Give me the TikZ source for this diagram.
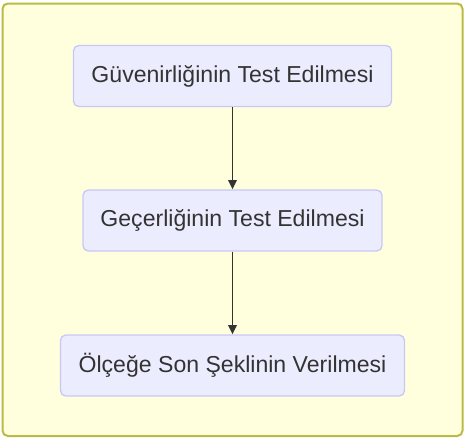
\documentclass[tikz,border=0pt]{standalone}
\usepackage{fontspec}
\setmainfont{Liberation Sans}
\usetikzlibrary{arrows.meta}
\definecolor{framefill}{HTML}{FFFFDE}
\definecolor{framedraw}{HTML}{BBBB44}
\definecolor{boxfill}{HTML}{ECECFF}
\definecolor{boxdraw}{HTML}{C8C8F8}
\definecolor{txt}{HTML}{333333}
\tikzset{
  stepbox/.style={draw=boxdraw, fill=boxfill, line width=1pt, rounded corners=4pt,
    text=txt, font=\fontsize{17.3}{20}\selectfont, inner sep=0pt, anchor=center},
  flow/.style={draw=txt, line width=1.4pt, -{Triangle[length=7pt,width=6.5pt]}}
}
\begin{document}
\begin{tikzpicture}[x=0.75pt,y=-0.75pt]
\useasboundingbox (0,0) rectangle (466,439);
\draw[fill=framefill, draw=framedraw, line width=1.5pt, rounded corners=4pt] (2.5,3.5) rectangle (462.5,436);
\node[stepbox, minimum width=318*0.75pt, minimum height=61*0.75pt] (n1) at (232.5,76) {Güvenirliğinin Test Edilmesi};
\node[stepbox, minimum width=299*0.75pt, minimum height=61*0.75pt] (n2) at (232.5,220.5) {Geçerliğinin Test Edilmesi};
\node[stepbox, minimum width=344*0.75pt, minimum height=61*0.75pt] (n3) at (232.5,365.5) {Ölçeğe Son Şeklinin Verilmesi};
\draw[flow] (n1) -- (n2);
\draw[flow] (n2) -- (n3);
\end{tikzpicture}
\end{document}
